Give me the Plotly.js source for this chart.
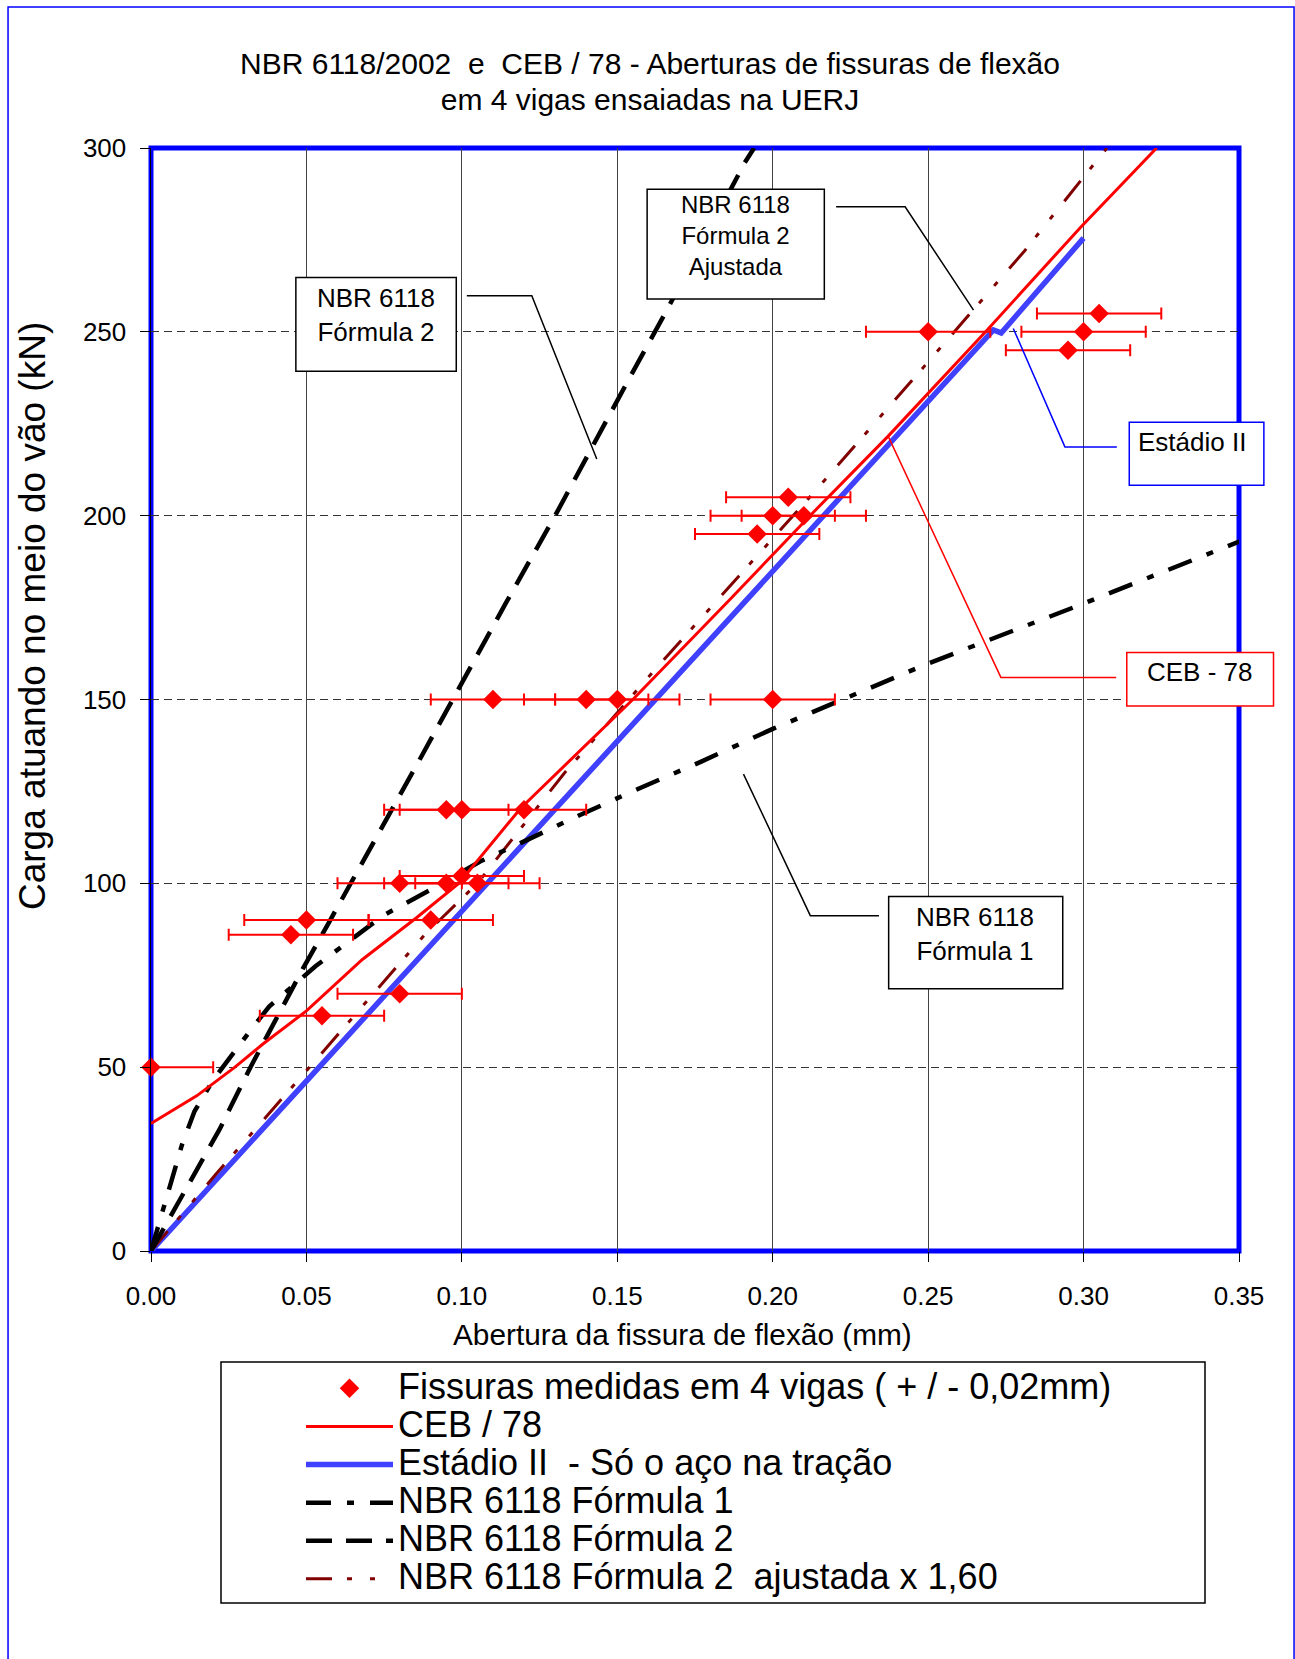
<!DOCTYPE html>
<html><head><meta charset="utf-8">
<script src="https://cdn.plot.ly/plotly-3.0.1.min.js"></script>
<style>html,body{margin:0;padding:0;background:#fff}#chart{width:1295px;height:1659px}</style>
</head><body><div id="chart"></div>
<script>
// ---- data (crack width mm, load kN) ----
const measX = [0.000,0.045,0.050,0.055,0.080,0.090,0.080,0.095,0.100,0.105,0.095,0.100,0.120,0.110,0.140,0.150,0.200,0.195,0.200,0.205,0.210,0.250,0.295,0.300,0.305];
const measY = [50,86,90,64,70,90,100,100,102,100,120,120,120,150,150,150,150,195,200,205,200,250,245,250,255];
const measErr = 0.02;

const cebX = [0,0.0147,0.027,0.036,0.050,0.068,0.0855,0.099,0.119,0.155,0.186,0.212,0.237,0.269,0.299,0.3235];
const cebY = [34.7,42.2,50,56.3,65.3,79.3,90.7,100,120.5,150,177,200,221.5,250.5,278.4,300];

const est2X = [0,0.054,0.108,0.162,0.216,0.271,0.2735,0.300];
const est2Y = [0,50,100,150,200,250.5,249.7,275.5];

const f1X = [0,0.004,0.010,0.014,0.020,0.032,0.038,0.053,0.064,0.075,0.090,0.106,0.119,0.138,0.157,0.177,0.200,0.250,0.300,0.352];
const f1Y = [0,12,29,38,46.5,60,66.5,77.5,84.6,91.4,98.3,106,111,118.6,125.8,133.1,142,159.8,176.1,193.6];

const f2X = [0,0.010,0.022,0.032,0.040,0.049,0.057,0.065,0.086,0.114,0.130,0.153,0.166,0.191,0.194];
const f2Y = [0,15,33,50,63,77,89,101,133,176,200,236,256,296,300];

const f2aX = [0,0.021,0.051,0.088,0.105,0.133,0.162,0.214,0.244,0.281,0.3075];
const f2aY = [0,21,50,86,100,130,158,207,236,272,300];

const xTicks = [0,0.05,0.10,0.15,0.20,0.25,0.30,0.35];
const yTicks = [0,50,100,150,200,250,300];

const seriesNames = [
  'Fissuras medidas em 4 vigas ( + / - 0,02mm)',
  'CEB / 78',
  'Estádio II \u00a0- Só o aço na tração',
  'NBR 6118 Fórmula 1',
  'NBR 6118 Fórmula 2',
  'NBR 6118 Fórmula 2 \u00a0ajustada x 1,60'
];

const titleLines = ['NBR 6118/2002 \u00a0e\u00a0 CEB / 78 - Aberturas de fissuras de flexão', 'em 4 vigas ensaiadas na UERJ'];
const xTitle = 'Abertura da fissura de flexão (mm)';
const yTitle = 'Carga atuando no meio do vão (kN)';

// callout boxes (in axis units: mm, kN)
const callouts = [
  {text:'NBR 6118<br>Fórmula 2', box:[0.0466,239.3,0.0982,264.8], at:[0.0724,254.6], anchor:'center', size:26, color:'black',
   leader:[[0.1016,259.8],[0.1225,259.8],[0.1434,215.4]]},
  {text:'NBR 6118<br>Fórmula 2<br>Ajustada', box:[0.1596,258.9,0.2166,288.8], at:[0.1881,276.2], anchor:'center', size:24, color:'black',
   leader:[[0.2204,284.0],[0.2426,284.0],[0.2646,255.9]]},
  {text:'Estádio II', box:[0.3147,208.3,0.3580,225.4], at:[0.3169,220.1], anchor:'left', size:26, color:'#0000ff',
   leader:[[0.3107,218.7],[0.2940,218.7],[0.2774,250.9]]},
  {text:'CEB - 78', box:[0.3139,148.2,0.3611,162.8], at:[0.3376,157.4], anchor:'center', size:26, color:'#ff0000',
   leader:[[0.3105,156.0],[0.2734,156.0],[0.2372,221.5]]},
  {text:'NBR 6118<br>Fórmula 1', box:[0.2373,71.3,0.2933,96.4], at:[0.2652,86.3], anchor:'center', size:26, color:'black',
   leader:[[0.2342,91.2],[0.2121,91.2],[0.1906,129.7]]}
];

const XR = [0,0.35], YR = [0,300];
const px = v => (v - XR[0]) / (XR[1] - XR[0]);
const py = v => (v - YR[0]) / (YR[1] - YR[0]);

const FONT = '"Liberation Sans", Arial, Helvetica, sans-serif';
const big = s => '<span style="font-size:36px">' + s + '</span>';

const traces = [
  {x:est2X, y:est2Y, mode:'lines', name:big(seriesNames[2]), legendrank:3,
   line:{color:'#4040ff', width:5.5}},
  {x:f2aX, y:f2aY, mode:'lines', name:big(seriesNames[5]), legendrank:6,
   line:{color:'#800000', width:3, dash:'26px,15px,5px,18px,5px,18px'}},
  {x:f2X, y:f2Y, mode:'lines', name:big(seriesNames[4]), legendrank:5,
   line:{color:'#000000', width:4.5, dash:'26px,14px'}},
  {x:f1X, y:f1Y, mode:'lines', name:big(seriesNames[3]), legendrank:4,
   line:{color:'#000000', width:4.5, dash:'25px,16px,7px,16px'}},
  {x:cebX, y:cebY, mode:'lines', name:big(seriesNames[1]), legendrank:2,
   line:{color:'#ff0000', width:3}},
  {x:measX, y:measY, mode:'markers', showlegend:false, hoverinfo:'skip',
   marker:{symbol:'diamond', size:15, color:'#ff0000', opacity:0},
   error_x:{type:'constant', value:measErr, color:'#ff0000', thickness:2, width:6}},
  {x:measX, y:measY, mode:'markers', name:big(seriesNames[0]), legendrank:1, cliponaxis:false,
   marker:{symbol:'diamond', size:15, color:'#ff0000'}}
];

const shapes = [];
const annotations = [];

// plot frame
shapes.push({type:'rect', xref:'paper', yref:'paper', x0:0, x1:1, y0:0, y1:1, layer:'between',
  line:{color:'#0000ff', width:5}, fillcolor:'rgba(0,0,0,0)'});
// outer chart border
shapes.push({type:'rect', xref:'paper', yref:'paper', x0:-0.1314, x1:1.0506, y0:-0.40, y1:1.1278, layer:'below',
  line:{color:'#0000ff', width:1.5}, fillcolor:'rgba(0,0,0,0)'});
// legend box
shapes.push({type:'rect', xref:'paper', yref:'paper', x0:(221-151)/1088, x1:(1205-151)/1088, y0:(1251-1603)/1103, y1:(1251-1362)/1103,
  layer:'above', line:{color:'#000000', width:1.5}, fillcolor:'rgba(0,0,0,0)'});

callouts.forEach(c => {
  const p = c.leader.map((q,i) => (i ? 'L' : 'M') + px(q[0]).toFixed(5) + ',' + py(q[1]).toFixed(5)).join(' ');
  shapes.push({type:'path', xref:'paper', yref:'paper', path:p, layer:'above', line:{color:c.color, width:1.5}});
  shapes.push({type:'rect', xref:'paper', yref:'paper', x0:px(c.box[0]), x1:px(c.box[2]), y0:py(c.box[1]), y1:py(c.box[3]),
    layer:'above', line:{color:c.color, width:1.5}, fillcolor:'#ffffff'});
  annotations.push({xref:'paper', yref:'paper', x:px(c.at[0]), y:py(c.at[1]), text:c.text, showarrow:false,
    xanchor:c.anchor, yanchor:'middle', align:c.anchor === 'left' ? 'left' : 'center',
    font:{family:FONT, size:c.size, color:'#000000'}});
});

// axis titles (placed as in the original chart)
annotations.push({xref:'paper', yref:'paper', x:(32-151)/1088, y:(1251-616)/1103, text:yTitle, textangle:-90,
  showarrow:false, xanchor:'center', yanchor:'middle', font:{family:FONT, size:37, color:'#000000'}});
annotations.push({xref:'paper', yref:'paper', x:(682-151)/1088, y:(1251-1334)/1103, text:xTitle,
  showarrow:false, xanchor:'center', yanchor:'middle', font:{family:FONT, size:29.8, color:'#000000'}});

const layout = {
  width:1295, height:1659,
  margin:{l:151, r:56, t:148, b:408, autoexpand:false},
  paper_bgcolor:'#ffffff', plot_bgcolor:'#ffffff',
  font:{family:FONT, color:'#000000'},
  title:{text:'<span style="font-size:30px">' + titleLines[0] + '</span><br><span style="font-size:30px">' + titleLines[1] + '</span>',
    xref:'container', yref:'container', x:650/1295, xanchor:'center', y:1 - 74/1659, yanchor:'top',
    font:{family:FONT, size:28, color:'#000000'}},
  xaxis:{range:XR, tickvals:xTicks, tickformat:'.2f', showgrid:true, gridcolor:'#444444', gridwidth:1,
    zeroline:false, showline:false, ticks:'outside', ticklen:10, tickwidth:1, tickcolor:'#000000',
    ticklabelstandoff:12, tickfont:{family:FONT, size:26, color:'#000000'}, fixedrange:true},
  yaxis:{range:YR, tickvals:yTicks, showgrid:true, gridcolor:'#333333', gridwidth:1, griddash:'8px,5px',
    zeroline:false, showline:true, linecolor:'#000000', linewidth:1.5, ticks:'outside', ticklen:10, tickwidth:1,
    tickcolor:'#000000', ticklabelstandoff:8, tickfont:{family:FONT, size:26, color:'#000000'}, fixedrange:true},
  showlegend:true,
  legend:{x:(301-151)/1088, y:(1251-1364.3)/1103, xanchor:'left', yanchor:'top', itemwidth:87,
    font:{family:FONT, size:27, color:'#000000'}, bgcolor:'rgba(0,0,0,0)', borderwidth:0, traceorder:'normal'},
  shapes:shapes, annotations:annotations
};

Plotly.newPlot('chart', traces, layout, {staticPlot:true, displayModeBar:false});
</script>
</body></html>
